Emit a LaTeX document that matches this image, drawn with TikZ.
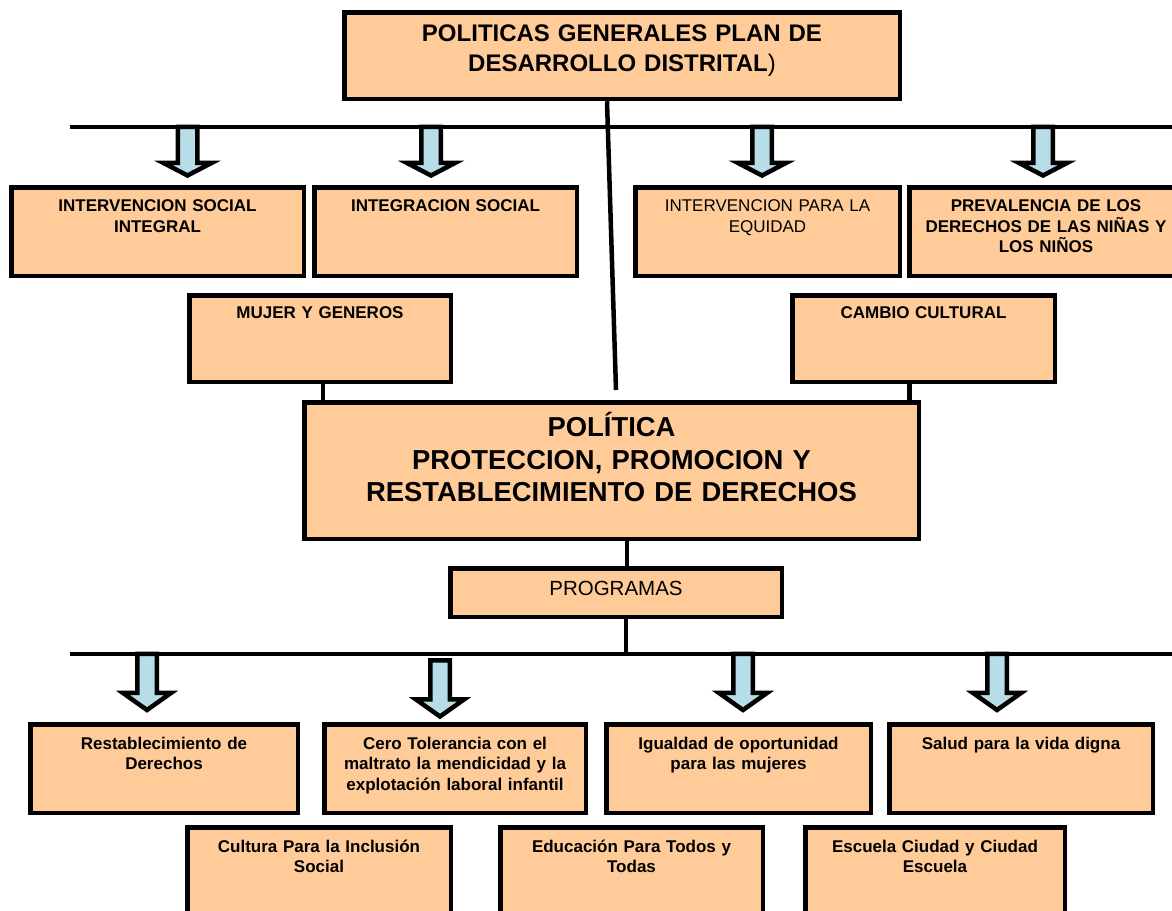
\documentclass[tikz,border=0pt]{standalone}
\usepackage{fontspec}
\setmainfont{Liberation Sans}
\definecolor{peach}{HTML}{FFCC99}
\definecolor{arrowblue}{HTML}{B7DEE8}
\begin{document}
\begin{tikzpicture}[
  box/.style={draw=black,line width=4.5bp,fill=peach,anchor=north,inner sep=0pt,align=center},
  topbox/.style={box,font=\fontsize{24bp}{30bp}\selectfont\bfseries},
  rowbox/.style={box,font=\fontsize{17bp}{20.5bp}\selectfont\bfseries,text height=24.5bp,text depth=64bp},
  link/.style={draw=black,line width=4.5bp},
  blockarrow/.style={draw=black,line width=4.5bp,fill=arrowblue},
]
\useasboundingbox (0bp,0bp) rectangle (1172bp,911bp);
%%
\node (node_plan) at (622.0bp,900.75bp) [topbox,text width=555.5bp,text height=29.25bp,text depth=57.25bp] {POLITICAS GENERALES PLAN DE\\DESARROLLO DISTRITAL\mdseries)};
  \node (node_intsocial) at (157.5bp,725.75bp) [rowbox,text width=292.5bp] {INTERVENCION SOCIAL\\INTEGRAL};
  \node (node_integracion) at (445.5bp,725.75bp) [rowbox,text width=262.5bp] {INTEGRACION SOCIAL};
  \node (node_equidad) at (767.5bp,725.75bp) [rowbox,text width=264.5bp,font=\fontsize{17bp}{20.5bp}\selectfont\mdseries] {INTERVENCION PARA LA\\EQUIDAD};
  \node (node_prevalencia) at (1046.0bp,725.75bp) [rowbox,text width=273.5bp] {PREVALENCIA DE LOS\\DERECHOS DE LAS NIÑAS Y\\LOS NIÑOS};
  \node (node_mujer) at (320.0bp,617.75bp) [rowbox,text width=261.5bp,text height=22.75bp,text depth=63.75bp] {MUJER Y GENEROS};
  \node (node_cambio) at (923.5bp,617.75bp) [rowbox,text width=262.5bp,text height=22.75bp,text depth=63.75bp] {CAMBIO CULTURAL};
  \node (node_politica) at (611.5bp,510.75bp) [box,text width=614.5bp,text height=34.25bp,text depth=102.25bp,font=\fontsize{27.4bp}{32.5bp}\selectfont\bfseries] {POLÍTICA\\PROTECCION, PROMOCION Y\\RESTABLECIMIENTO DE DERECHOS};
  \node (node_programas) at (616.0bp,344.75bp) [box,text width=331.5bp,text height=27.25bp,text depth=21.25bp,font=\fontsize{20.5bp}{24bp}\selectfont] {PROGRAMAS};
  \node (node_restablecimiento) at (164.0bp,188.75bp) [rowbox,text width=267.5bp,text height=25bp,text depth=63.5bp] {Restablecimiento de\\Derechos};
  \node (node_cero) at (455.0bp,188.75bp) [rowbox,text width=261.5bp,text height=25bp,text depth=63.5bp] {Cero Tolerancia con el\\maltrato la mendicidad y la\\explotación laboral infantil};
  \node (node_igualdad) at (738.5bp,188.75bp) [rowbox,text width=264.5bp,text height=25bp,text depth=63.5bp] {Igualdad de oportunidad\\para las mujeres};
  \node (node_salud) at (1021.0bp,188.75bp) [rowbox,text width=263.5bp,text height=25bp,text depth=63.5bp] {Salud para la vida digna};
  \node (node_cultura) at (319.0bp,85.75bp) [rowbox,text width=263.5bp,text height=25bp,text depth=63.5bp] {Cultura Para la Inclusión\\Social};
  \node (node_educacion) at (631.5bp,85.75bp) [rowbox,text width=262.5bp,text height=25bp,text depth=63.5bp] {Educación Para Todos y\\Todas};
  \node (node_escuela) at (935.0bp,85.75bp) [rowbox,text width=259.5bp,text height=25bp,text depth=63.5bp] {Escuela Ciudad y Ciudad\\Escuela};
%
\coordinate (bar_top_l) at (70.0bp,784.0bp);
  \coordinate (bar_top_r) at (1180.0bp,784.0bp);
  \coordinate (bar_low_l) at (70.0bp,257.0bp);
  \coordinate (bar_low_r) at (1180.0bp,257.0bp);
  \coordinate (plan_end) at (616.0bp,521.0bp);
  \draw [link] (bar_top_l) -- (bar_top_r);
  \draw [link] (bar_low_l) -- (bar_low_r);
  \draw [link] ([xshift=-15bp]node_plan.south) -- (plan_end);
  \draw [link] ([xshift=3bp]node_mujer.south) -- ([xshift=3bp]node_mujer.south |- node_politica.north);
  \draw [link] ([xshift=-14bp]node_cambio.south) -- ([xshift=-14bp]node_cambio.south |- node_politica.north);
  \draw [link] ([xshift=15.5bp]node_politica.south) -- ([xshift=11bp]node_programas.north);
  \draw [link] ([xshift=10bp]node_programas.south) -- ([xshift=10bp]node_programas.south |- bar_low_l);
%
\foreach \x in {187.5,431.0,762.0,1043.0}
  \draw [blockarrow,shift={(\x bp,784.0bp)}] (-9.75bp,0bp) -- (-9.75bp,-36bp) -- (-24bp,-36bp) -- (0bp,-48.5bp) -- (24bp,-36bp) -- (9.75bp,-36bp) -- (9.75bp,0bp) -- cycle;
\foreach \x/\y in {147.0/257.0,440.0/250.5,743.0/257.0,997.0/257.0}
  \draw [blockarrow,shift={(\x bp,\y bp)}] (-9.75bp,0bp) -- (-9.75bp,-39bp) -- (-24bp,-39bp) -- (0bp,-56bp) -- (24bp,-39bp) -- (9.75bp,-39bp) -- (9.75bp,0bp) -- cycle;
%
\end{tikzpicture}
\end{document}
